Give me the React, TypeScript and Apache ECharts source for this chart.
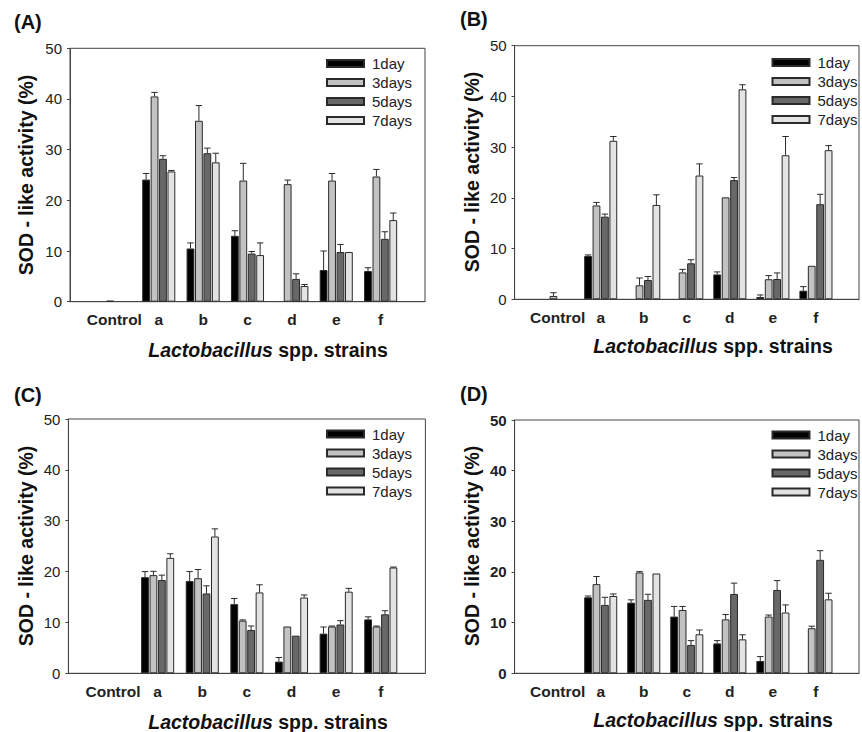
import React, { useEffect, useRef } from 'react';
import * as echarts from 'echarts';

const categories = ['Control', 'a', 'b', 'c', 'd', 'e', 'f'];
const dayNames = ['1day', '3days', '5days', '7days'];
const yMin = 0;
const yMax = 50;
const yInterval = 10;

// Panel (A) — rows: 1day, 3days, 5days, 7days ; columns: Control, a..f
const meanA = [
  [0, 24.1, 10.5, 13.0, 0, 6.25, 6.05],
  [0.2, 40.5, 35.7, 23.9, 23.2, 23.9, 24.7],
  [0, 28.2, 29.3, 9.5, 4.5, 9.8, 12.4],
  [0, 25.7, 27.5, 9.2, 3.1, 9.8, 16.1],
];
const sdA = [
  [0, 1.2, 1.1, 1.0, 0, 3.75, 0.65],
  [0, 0.8, 3.0, 3.4, 0.8, 1.4, 1.4],
  [0, 0.6, 1.0, 0.4, 1.0, 1.5, 1.4],
  [0, 0.2, 1.8, 2.4, 0.3, 0, 1.4],
];

// Panel (B)
const meanB = [
  [0, 8.55, 0, 0, 4.9, 0.46, 1.7],
  [0.66, 18.5, 2.76, 5.3, 20.1, 3.95, 6.6],
  [0, 16.3, 3.8, 7.1, 23.5, 4.0, 18.75],
  [0, 31.25, 18.6, 24.4, 41.4, 28.4, 29.4],
];
const sdB = [
  [0, 0.2, 0, 0, 0.5, 0.4, 0.8],
  [0.64, 0.6, 1.44, 0.6, 0, 0.72, 0],
  [0, 0.5, 0.7, 0.7, 0.5, 1.2, 1.95],
  [0, 0.85, 2.0, 2.3, 0.9, 3.7, 0.9],
];

// Panel (C)
const meanC = [
  [0, 18.9, 18.15, 13.6, 2.3, 7.8, 10.6],
  [0, 19.3, 18.7, 10.35, 9.2, 9.2, 9.2],
  [0, 18.35, 15.7, 8.5, 7.4, 9.6, 11.6],
  [0, 22.7, 26.9, 15.9, 14.9, 16.05, 20.8],
];
const sdC = [
  [0, 1.1, 1.85, 1.1, 0.8, 1.3, 0.5],
  [0, 0.75, 1.7, 0.15, 0, 0.1, 0.1],
  [0, 0.95, 1.5, 0.8, 0, 0.75, 0.7],
  [0, 0.8, 1.5, 1.5, 0.5, 0.65, 0.1],
];

// Panel (D)
const meanD = [
  [0, 15.0, 13.95, 11.2, 5.9, 2.43, 0],
  [0, 17.6, 19.9, 12.5, 10.65, 11.2, 8.9],
  [0, 13.5, 14.5, 5.6, 15.66, 16.45, 22.4],
  [0, 15.26, 19.7, 7.7, 6.7, 12.0, 14.6],
];
const sdD = [
  [0, 0.26, 0.55, 2.0, 0.55, 0.87, 0],
  [0, 1.5, 0.17, 0.7, 0.95, 0.3, 0.4],
  [0, 1.5, 1.1, 0.85, 2.14, 1.85, 1.8],
  [0, 0.4, 0, 0.85, 0.9, 1.5, 1.2],
];

const FONT = "'Liberation Sans', Arial, Helvetica, sans-serif";
const barColors = ['#000000', '#c2c2c2', '#686868', '#e3e3e3'];
const BAR_W = 7.8;
const BAR_GAP_PCT = 8;
const STEP = BAR_W * (1 + BAR_GAP_PCT / 100);

const panels = [
  {
    label: '(A)', mean: meanA, sd: sdA, boldY: false,
    grid: { left: 70, top: 48.3, width: 355, height: 253.4 },
    legend: { left: 326, top: 56 },
    labelPos: [14, 22], xTitle: [268, 350], yTitle: [26, 175],
  },
  {
    label: '(B)', mean: meanB, sd: sdB, boldY: false,
    grid: { left: 514.6, top: 45.7, width: 353.6, height: 253.6 },
    legend: { left: 771.5, top: 55 },
    labelPos: [460, 19], xTitle: [713, 346], yTitle: [472, 172],
  },
  {
    label: '(C)', mean: meanC, sd: sdC, boldY: false,
    grid: { left: 68.4, top: 419, width: 357, height: 254.3 },
    legend: { left: 326, top: 426.5 },
    labelPos: [14, 395], xTitle: [268, 721.5], yTitle: [26, 546],
  },
  {
    label: '(D)', mean: meanD, sd: sdD, boldY: true,
    grid: { left: 514.6, top: 420, width: 353.6, height: 253.3 },
    legend: { left: 771.5, top: 427.5 },
    labelPos: [460, 394], xTitle: [713, 720], yTitle: [472, 546],
  },
];

export default function App() {
  const ref = useRef<HTMLDivElement>(null);

  useEffect(() => {
    if (!ref.current) return;
    const chart = echarts.init(ref.current, null, { renderer: 'svg', width: 862, height: 732 });
    const axisCats = ['', ...categories, ''];

    const grids: any[] = [];
    const xAxes: any[] = [];
    const yAxes: any[] = [];
    const legends: any[] = [];
    const series: any[] = [];
    const graphics: any[] = [];

    panels.forEach((pn, p) => {
      grids.push({ ...pn.grid, show: true, borderColor: '#444', borderWidth: 1, containLabel: false });
      xAxes.push({
        type: 'category', gridIndex: p, data: axisCats, boundaryGap: false,
        axisTick: { show: false },
        axisLine: { show: true, lineStyle: { color: '#444', width: 1 } },
        axisLabel: { interval: 0, fontSize: 15.5, fontWeight: 'bold', color: '#222', fontFamily: FONT, margin: 10 },
        splitLine: { show: false },
      });
      yAxes.push({
        type: 'value', gridIndex: p, min: yMin, max: yMax, interval: yInterval,
        axisLine: { show: true, lineStyle: { color: '#444', width: 1 } },
        axisTick: { show: true, inside: false, length: 3, lineStyle: { color: '#444' } },
        axisLabel: { fontSize: 15, color: '#222', fontFamily: FONT, margin: 8, fontWeight: pn.boldY ? 'bold' : 'normal' },
        splitLine: { show: false },
      });
      legends.push({
        data: dayNames, orient: 'vertical', left: pn.legend.left, top: pn.legend.top,
        itemWidth: 37, itemHeight: 7, itemGap: 4, icon: 'rect', padding: 0, selectedMode: false,
        textStyle: { fontSize: 15, color: '#222', fontFamily: FONT, padding: [0, 0, 0, 3] },
      });

      const errData: any[] = [];
      dayNames.forEach((name, s) => {
        const vals = pn.mean[s];
        series.push({
          type: 'bar', name, xAxisIndex: p, yAxisIndex: p,
          data: ['-', ...vals.map((v) => (v === 0 ? '-' : v)), '-'],
          barWidth: BAR_W, barGap: BAR_GAP_PCT + '%',
          itemStyle: { color: barColors[s], borderColor: '#2a2a2a', borderWidth: 1 },
          silent: true,
        });
        vals.forEach((v, i) => {
          const e = pn.sd[s][i];
          if (e > 0) errData.push([i + 1, v, e, s]);
        });
      });
      series.push({
        type: 'custom', name: 'err' + p, xAxisIndex: p, yAxisIndex: p, z: 5, silent: true,
        encode: { x: 0, y: 1 },
        data: errData,
        renderItem: (params: any, api: any) => {
          const xi = api.value(0);
          const v = api.value(1);
          const e = api.value(2);
          const si = api.value(3);
          const base = api.coord([xi, v]);
          const top = api.coord([xi, v + e]);
          const cx = base[0] + (si - 1.5) * STEP;
          const st = { stroke: '#2a2a2a', lineWidth: 1 };
          return {
            type: 'group',
            children: [
              { type: 'line', shape: { x1: cx, y1: base[1], x2: cx, y2: top[1] }, style: st },
              { type: 'line', shape: { x1: cx - 3.2, y1: top[1], x2: cx + 3.2, y2: top[1] }, style: st },
            ],
          };
        },
      });

      graphics.push({
        type: 'text', x: pn.labelPos[0], y: pn.labelPos[1],
        style: { text: pn.label, fontSize: 20, fontWeight: 'bold', fontFamily: FONT, fill: '#111', align: 'left', verticalAlign: 'middle' },
      });
      graphics.push({
        type: 'text', x: pn.xTitle[0], y: pn.xTitle[1],
        style: {
          text: '{i|Lactobacillus}{b| spp. strains}',
          align: 'center', verticalAlign: 'middle', fill: '#111',
          rich: {
            i: { fontStyle: 'italic', fontWeight: 'bold', fontSize: 19.5, fontFamily: FONT, fill: '#111' },
            b: { fontWeight: 'bold', fontSize: 19.5, fontFamily: FONT, fill: '#111' },
          },
        },
      });
      graphics.push({
        type: 'text', x: pn.yTitle[0], y: pn.yTitle[1], rotation: Math.PI / 2,
        style: { text: 'SOD - like activity (%)', fontSize: 19.5, fontWeight: 'bold', fontFamily: FONT, fill: '#111', align: 'center', verticalAlign: 'middle' },
      });
    });

    chart.setOption({
      animation: false,
      backgroundColor: '#ffffff',
      grid: grids,
      xAxis: xAxes,
      yAxis: yAxes,
      legend: legends,
      series,
      graphic: graphics,
    });

    return () => chart.dispose();
  }, []);

  return <div ref={ref} style={{ position: 'absolute', left: 0, top: 0, width: 862, height: 732 }} />;
}
